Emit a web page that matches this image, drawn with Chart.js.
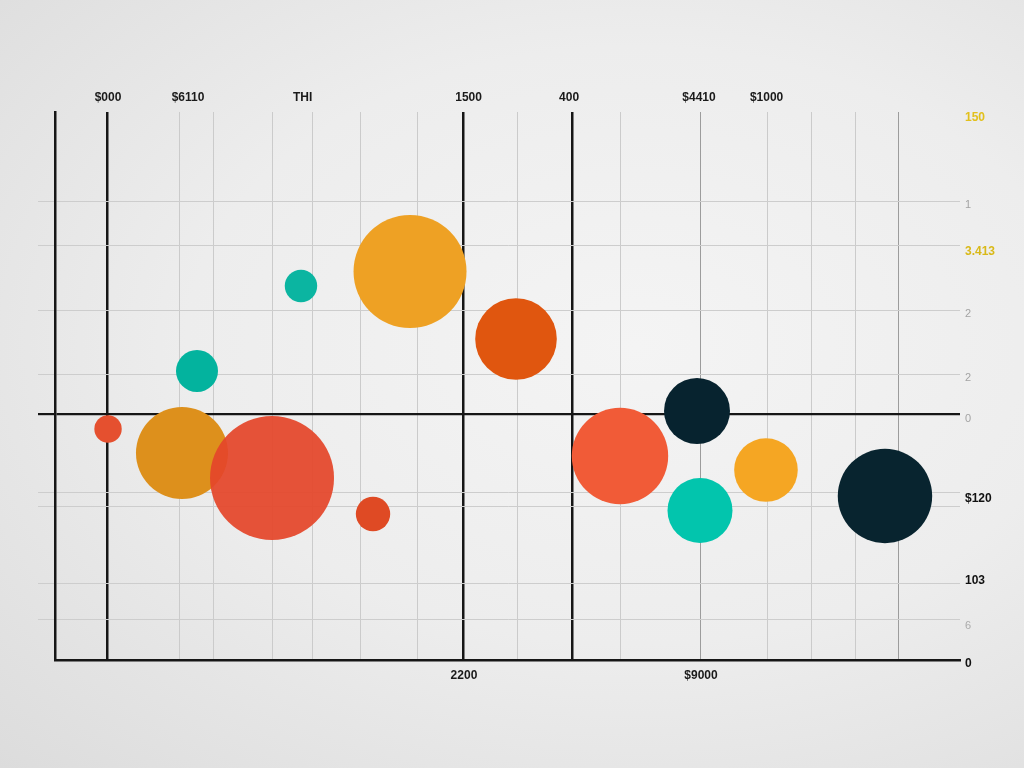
<!DOCTYPE html>
<html>
<head>
<meta charset="utf-8">
<script src="https://cdn.jsdelivr.net/npm/chart.js@4.4.1/dist/chart.umd.min.js"></script>
<style>
  html, body { margin: 0; padding: 0; }
  body {
    width: 1024px; height: 768px; overflow: hidden;
    background: radial-gradient(ellipse at 62% 45%, #f4f4f4 0%, #ededed 50%, #dcdcdc 100%);
  }
  canvas { display: block; }
</style>
</head>
<body>
<canvas id="bubbleChart" width="1024" height="768"></canvas>
<script>
// bubble values: x, y in axis units, r = bubble size
const redX = [5.86, 23.98, 35.14, 50.94, 62.43];
const redY = [42.15, 33.21, 26.64, 58.58, 37.23];
const redR = [13.7, 62, 17.2, 40.8, 48.2];

const orangeX = [14.03, 39.23, 78.56];
const orangeY = [37.77, 70.89, 34.67];
const orangeR = [46, 56.5, 31.8];

const tealX = [15.69, 27.18, 71.27];
const tealY = [52.74, 68.25, 27.28];
const tealR = [21, 16.2, 32.5];

const navyX = [70.94, 91.71];
const navyY = [45.44, 29.93];
const navyR = [33, 47.2];

// tick labels
const topLabels = ['$000', '$6110', 'THI', '1500', '400', '$4410', '$1000'];
const topTicks = [5.86, 14.70, 27.36, 45.70, 56.80, 71.16, 78.63];
const bottomLabels = ['2200', '$9000'];
const bottomTicks = [45.19, 71.38];
const rightLabels = ['150', '1', '3.413', '2', '2', '0', '$120', '103', '6', '0'];
const rightTicks = [98.98, 83.03, 74.45, 63.14, 51.46, 43.98, 29.38, 14.42, 6.20, -0.73];

// grid lines
const xGridLines = [5.75, 13.81, 17.46, 23.98, 28.40, 33.81, 40.0, 45.08, 51.05, 57.13, 62.54, 71.38, 78.78, 83.54, 88.40, 93.15];
const xMajorLines = [5.75, 45.08, 57.13];
const xMidLines = [71.38, 93.15];
const yGridLines = [7.30, 13.87, 28.10, 30.57, 44.89, 52.01, 63.69, 75.55, 83.58];
const yMajorLines = [44.89];

const FONT = "'Liberation Sans', Arial, sans-serif";
const INK = '#161616';

// colours for the right-hand labels
const rightColors = ['#e2c01c', '#a3a3a3', '#d9b918', '#a3a3a3', '#a3a3a3', '#a3a3a3', '#111111', '#111111', '#ababab', '#111111'];
const rightBold = [true, false, true, false, false, false, true, true, false, true];

function toPoints(xs, ys, rs) {
  return xs.map((x, i) => ({ x: x, y: ys[i], r: rs[i] }));
}

function fixedTicks(vals) {
  return (axis) => { axis.ticks = vals.map(v => ({ value: v })); };
}

function xLineColor(c) {
  const v = c.tick ? c.tick.value : null;
  if (xMajorLines.includes(v)) return INK;
  if (xMidLines.includes(v)) return '#9c9c9c';
  return '#cbcbcb';
}

const ctx = document.getElementById('bubbleChart').getContext('2d');

const chart = new Chart(ctx, {
  type: 'bubble',
  data: {
    datasets: [
      {
        label: 'Red',
        data: toPoints(redX, redY, redR),
        backgroundColor: ['#e5502f', 'rgba(228,70,42,0.93)', '#df4a24', '#e0560f', '#f15b37'],
        borderWidth: 0
      },
      {
        label: 'Orange',
        data: toPoints(orangeX, orangeY, orangeR),
        backgroundColor: ['#dd901c', '#eea124', '#f5a623'],
        borderWidth: 0
      },
      {
        label: 'Teal',
        data: toPoints(tealX, tealY, tealR),
        backgroundColor: ['#03b39e', '#0bb5a1', '#02c5ad'],
        borderWidth: 0
      },
      {
        label: 'Navy',
        data: toPoints(navyX, navyY, navyR),
        backgroundColor: ['#07232f', '#08242f'],
        borderWidth: 0
      }
    ]
  },
  options: {
    responsive: false,
    animation: false,
    layout: { autoPadding: false, padding: { left: 38, top: 0, right: 0, bottom: 0 } },
    plugins: {
      legend: { display: false },
      tooltip: { enabled: false }
    },
    scales: {
      x: {
        type: 'linear', position: 'bottom', min: 0, max: 100,
        afterBuildTicks: fixedTicks(bottomTicks),
        afterFit: (axis) => { axis.height = 108; axis.paddingLeft = 0; axis.paddingRight = 0; },
        grid: { display: false, drawTicks: false },
        border: { display: true, color: INK, width: 2.5 },
        ticks: {
          callback: (v, i) => bottomLabels[i],
          autoSkip: false, maxRotation: 0, padding: 8,
          color: '#1a1a1a', font: { family: FONT, size: 12, weight: 'bold' }
        }
      },
      xTop: {
        type: 'linear', position: 'top', min: 0, max: 100,
        afterBuildTicks: fixedTicks(topTicks),
        afterFit: (axis) => { axis.height = 112; axis.paddingLeft = 0; axis.paddingRight = 0; },
        grid: { display: false, drawTicks: false },
        border: { display: false },
        ticks: {
          callback: (v, i) => topLabels[i],
          autoSkip: false, maxRotation: 0, padding: 7,
          color: '#1a1a1a', font: { family: FONT, size: 12, weight: 'bold' }
        }
      },
      xGrid: {
        type: 'linear', position: 'top', min: 0, max: 100,
        afterBuildTicks: fixedTicks(xGridLines),
        afterFit: (axis) => { axis.height = 0; },
        grid: {
          drawTicks: false,
          color: xLineColor,
          lineWidth: (c) => xMajorLines.includes(c.tick ? c.tick.value : null) ? 2.5 : 1
        },
        border: { display: false },
        ticks: { display: false }
      },
      yL: {
        type: 'linear', position: 'left', min: 0, max: 100,
        afterBuildTicks: fixedTicks(yGridLines),
        afterFit: (axis) => { axis.width = 17; },
        grid: {
          drawTicks: true, tickLength: 17,
          color: (c) => yMajorLines.includes(c.tick ? c.tick.value : null) ? INK : '#cdcdcd',
          lineWidth: (c) => yMajorLines.includes(c.tick ? c.tick.value : null) ? 2.2 : 1
        },
        border: { display: true, color: INK, width: 2.5 },
        ticks: { display: false }
      },
      y: {
        type: 'linear', position: 'right', min: 0, max: 100,
        afterBuildTicks: fixedTicks(rightTicks),
        afterFit: (axis) => { axis.width = 64; axis.paddingTop = 0; axis.paddingBottom = 0; },
        grid: { display: false, drawTicks: false },
        border: { display: false },
        ticks: {
          callback: (v, i) => rightLabels[i],
          autoSkip: false, padding: 5,
          color: (c) => rightColors[c.index],
          font: (c) => ({ family: FONT, size: rightBold[c.index] ? 12 : 11, weight: rightBold[c.index] ? 'bold' : 'normal' })
        }
      }
    }
  }
});
</script>
</body>
</html>
